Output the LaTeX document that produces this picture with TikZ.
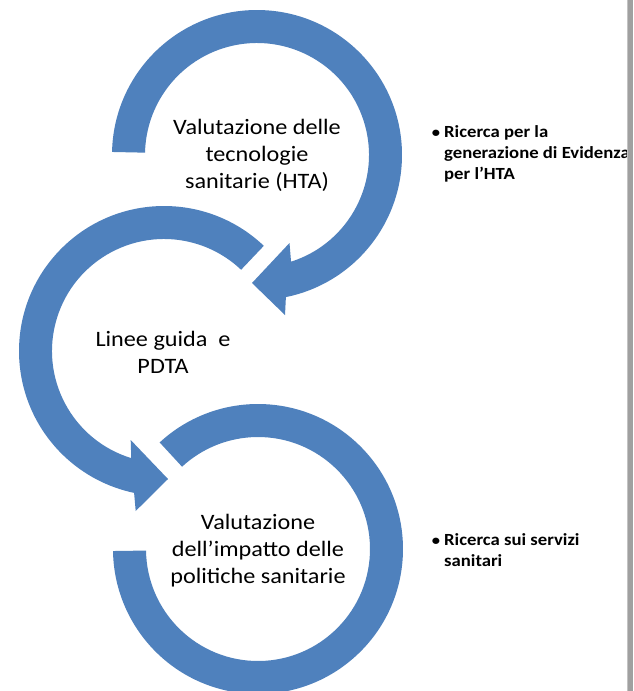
\documentclass[tikz,border=0pt]{standalone}
\usepackage{fontspec}
\setmainfont{Carlito}[FakeStretch=1.1]
\usetikzlibrary{calc}
\definecolor{ringblue}{RGB}{79,129,189}
\definecolor{edgelight}{RGB}{195,195,195}
\definecolor{edgedark}{RGB}{160,160,160}
\begin{document}
\begin{tikzpicture}[x=1pt,y=-1pt,
  ring/.style={fill=ringblue,draw=none},
  ringtext/.style={align=center,font=\fontsize{22}{27}\selectfont,inner sep=0pt},
  sidenote/.style={align=left,anchor=west,font=\fontsize{17}{21}\selectfont\bfseries,inner sep=0pt}]
\useasboundingbox (0,0) rectangle (633,691);
\fill[white] (0,0) rectangle (633,691);

% ring centres
\coordinate (c1) at (257,155);
\coordinate (c2) at (164,351);
\coordinate (c3) at (258,549);

% upper ring, arrow pointing into the middle ring
\fill[ring] ($(c1)+(181.2:145)$) arc[start angle=181.2,end angle=438.5,radius=145]
  -- (285,315) -- (252,283) -- (289.5,243)
  -- ($(c1)+(432.3:112)$) arc[start angle=432.3,end angle=181.2,radius=112] -- cycle;

% middle ring, arrow pointing into the lower ring
\fill[ring] ($(c2)+(313.5:145)$) arc[start angle=313.5,end angle=101.9,radius=145]
  -- (135.7,511) -- (168,479) -- (130.7,440)
  -- ($(c2)+(107:112)$) arc[start angle=107,end angle=313.5,radius=112] -- cycle;

% lower ring
\fill[ring] ($(c3)+(227.3:145)$) arc[start angle=227.3,end angle=539.2,radius=145]
  -- ($(c3)+(539.2:112)$) arc[start angle=539.2,end angle=227.3,radius=112] -- cycle;

% ring labels
\node[ringtext] (t1) at (257,155) {Valutazione delle\\tecnologie\\sanitarie (HTA)};
\node[ringtext] (t2) at (163,352) {Linee guida\ \ e\\PDTA};
\node[ringtext] (t3) at (258,551) {Valutazione\\dell’impatto delle\\politiche sanitarie};

% side notes
\node[sidenote] (n1) at (444,154) {\llap{{\fontsize{15}{15}\selectfont•}\hspace{4pt}}Ricerca per la\\generazione di Evidenza\\per l’HTA};
\node[sidenote] (n2) at (444,550) {\llap{{\fontsize{15}{15}\selectfont•}\hspace{4pt}}Ricerca sui servizi\\sanitari};

% page edge
\fill[edgelight] (626.5,0) rectangle (628,691);
\fill[edgedark] (628,0) rectangle (633,691);
\end{tikzpicture}
\end{document}
